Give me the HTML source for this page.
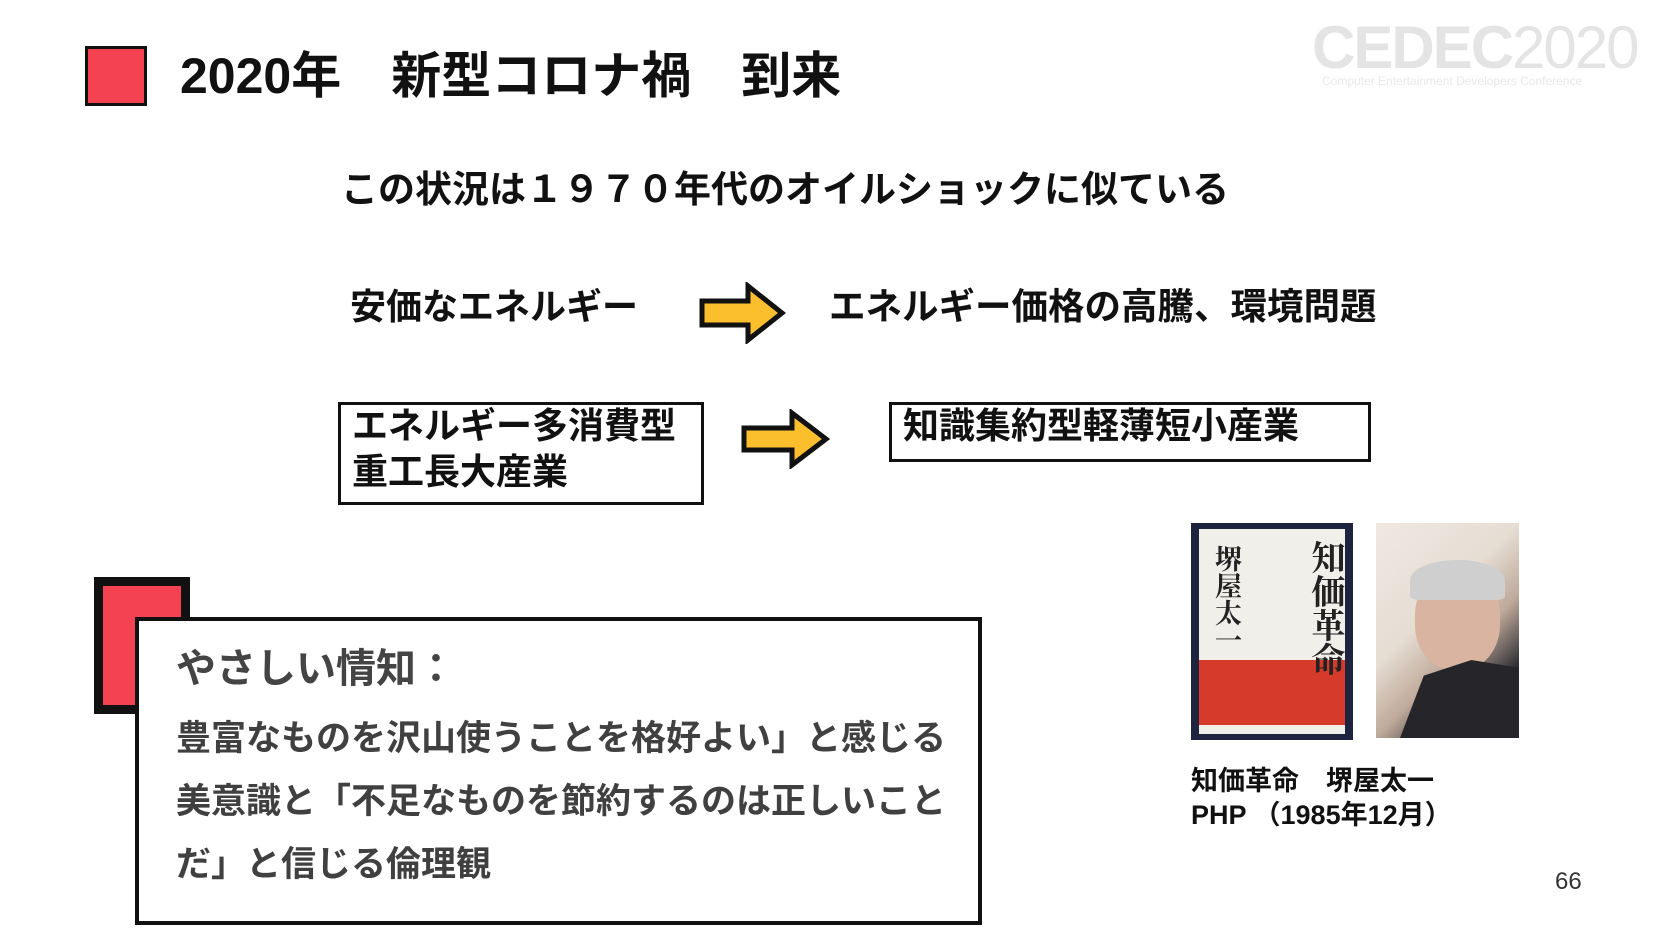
<!DOCTYPE html>
<html><head><meta charset="utf-8"><style>
body{margin:0;width:1680px;height:945px;background:#fff;position:relative;overflow:hidden;font-family:"Liberation Sans","Noto Sans CJK JP",sans-serif;font-weight:bold;color:#111}
.a{position:absolute;white-space:nowrap}
</style></head><body>
<div class="a" style="left:85px;top:46px;width:56px;height:54px;background:#f44250;border:3px solid #111"></div>
<div class="a" style="left:180px;top:45px;font-size:50px;line-height:62px">2020年　新型コロナ禍　到来</div>
<div class="a" style="left:1312px;top:12px;font-size:60px;line-height:72px;color:#e4e4e4;font-weight:bold;letter-spacing:-2px">CEDEC<span style="font-weight:normal">2020</span></div>
<div class="a" style="left:1322px;top:74px;font-size:12px;color:#e8e8e8;font-weight:normal">Computer Entertainment Developers Conference</div>
<div class="a" style="left:341px;top:167px;font-size:37px;line-height:46px">この状況は１９７０年代のオイルショックに似ている</div>
<div class="a" style="left:350px;top:284px;font-size:36px;line-height:46px">安価なエネルギー</div>
<svg class="a" style="left:694px;top:282px" width="92" height="62" viewBox="0 0 92 62"><polygon points="8,19 54,19 54,4 88,31 54,58 54,43 8,43" fill="#fbbf2e" stroke="#111" stroke-width="5" stroke-linejoin="miter"/></svg>
<div class="a" style="left:829px;top:284px;font-size:36.5px;line-height:46px">エネルギー価格の高騰、環境問題</div>
<div class="a" style="left:338px;top:402px;width:366px;height:103px;border:3px solid #111;box-sizing:border-box"></div>
<div class="a" style="left:352px;top:403px;font-size:36px;line-height:46px">エネルギー多消費型<br>重工長大産業</div>
<svg class="a" style="left:738px;top:409px" width="92" height="60" viewBox="0 0 92 60"><polygon points="6,19 54,19 54,4 88,30 54,56 54,41 6,41" fill="#fbbf2e" stroke="#111" stroke-width="5"/></svg>
<div class="a" style="left:889px;top:402px;width:482px;height:60px;border:3px solid #111;box-sizing:border-box"></div>
<div class="a" style="left:903px;top:403px;font-size:36px;line-height:46px">知識集約型軽薄短小産業</div>
<div class="a" style="left:94px;top:577px;width:96px;height:137px;background:#f44250;border:9px solid #111;box-sizing:border-box"></div>
<div class="a" style="left:135px;top:617px;width:847px;height:308px;background:#fff;border:4px solid #111;box-sizing:border-box"></div>
<div class="a" style="left:176px;top:644px;font-size:40px;line-height:50px;color:#444">やさしい情知：</div>
<div class="a" style="left:176px;top:707px;font-size:35px;line-height:63px;color:#404040">豊富なものを沢山使うことを格好よい」と感じる<br>美意識と「不足なものを節約するのは正しいこと<br>だ」と信じる倫理観</div>
<div class="a" style="left:1191px;top:523px;width:162px;height:217px;background:#1e2440"></div>
<div class="a" style="left:1199px;top:529px;width:146px;height:205px;background:#f1efe9"></div>
<div class="a" style="left:1199px;top:660px;width:146px;height:65px;background:#d63a2a"></div>
<div class="a" style="left:1310px;top:540px;font-size:34px;line-height:36px;writing-mode:vertical-rl;font-family:'Noto Serif CJK SC',serif;color:#222">知価革命</div>
<div class="a" style="left:1213px;top:545px;font-size:27px;line-height:30px;writing-mode:vertical-rl;font-family:'Noto Serif CJK SC',serif;color:#222">堺屋太一</div>
<div class="a" style="left:1376px;top:523px;width:143px;height:215px;background:linear-gradient(135deg,#efe9e2 0%,#e6ddd3 40%,#bfa99a 60%,#2a2a30 80%)"></div>
<div class="a" style="left:1415px;top:570px;width:85px;height:100px;border-radius:45%;background:#d9b4a0"></div>
<div class="a" style="left:1410px;top:560px;width:95px;height:40px;border-radius:50% 50% 10% 10%;background:#cfcfcf"></div>
<div class="a" style="left:1400px;top:660px;width:119px;height:78px;background:#26262a;clip-path:polygon(0 100%,20% 20%,60% 0,100% 10%,100% 100%)"></div>
<div class="a" style="left:1191px;top:764px;font-size:27px;line-height:34px">知価革命　堺屋太一<br>PHP （1985年12月）</div>
<div class="a" style="left:1555px;top:868px;font-size:24px;font-weight:normal;color:#333">66</div>
</body></html>
